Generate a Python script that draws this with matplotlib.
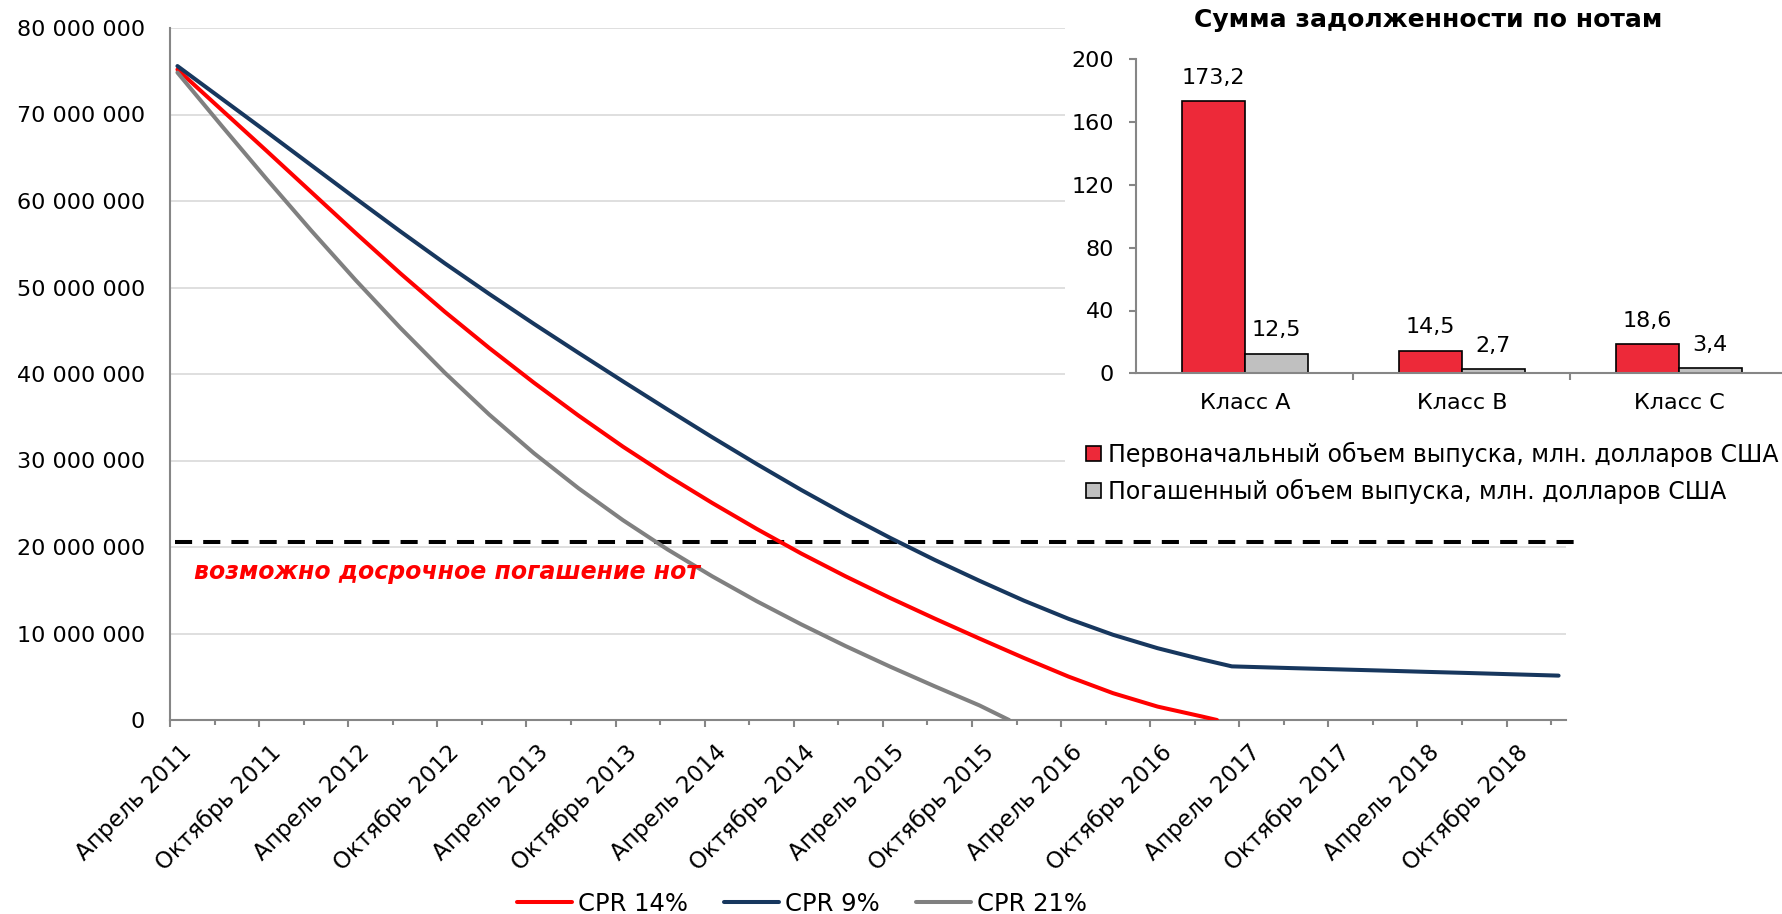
import matplotlib
matplotlib.use("Agg")
import matplotlib.pyplot as plt
from matplotlib.ticker import FixedLocator, FuncFormatter
from matplotlib.transforms import ScaledTranslation
from matplotlib.patches import Rectangle

plt.rcParams['font.family'] = ['DejaVu Sans']

# ---------------- data ----------------
n_months = 94  # April 2011 .. January 2019, monthly categories
month_labels = ['Апрель 2011', 'Октябрь 2011', 'Апрель 2012', 'Октябрь 2012',
                'Апрель 2013', 'Октябрь 2013', 'Апрель 2014', 'Октябрь 2014',
                'Апрель 2015', 'Октябрь 2015', 'Апрель 2016', 'Октябрь 2016',
                'Апрель 2017', 'Октябрь 2017', 'Апрель 2018', 'Октябрь 2018']
label_every = 6

series_names = ['CPR 14%', 'CPR 9%', 'CPR 21%']

cpr14_month = [0, 3, 6, 9, 12, 15, 18, 21, 24, 27, 30, 33, 36, 39, 42, 45,
               48, 51, 54, 57, 60, 63, 66, 69, 70]
cpr14_mln = [75.2, 70.5, 65.8, 61.05, 56.3, 51.65, 47.2, 43.0, 39.0, 35.2,
             31.6, 28.25, 25.1, 22.1, 19.25, 16.6, 14.1, 11.72, 9.42, 7.17,
             5.02, 3.1, 1.55, 0.4, 0.0]

cpr9_month = [0, 3, 6, 9, 12, 15, 18, 21, 24, 27, 30, 33, 36, 39, 42, 45, 48,
              51, 54, 57, 60, 63, 66, 69, 71, 72, 75, 78, 81, 84, 87, 90, 93]
cpr9_mln = [75.6, 71.8, 68.0, 64.15, 60.3, 56.5, 52.8, 49.25, 45.8, 42.45,
            39.15, 35.9, 32.7, 29.6, 26.6, 23.75, 21.05, 18.5, 16.1, 13.8,
            11.7, 9.85, 8.3, 7.0, 6.2, 6.15, 6.0, 5.86, 5.72, 5.57, 5.43,
            5.28, 5.13]

cpr21_month = [0, 3, 6, 9, 12, 15, 18, 21, 24, 27, 30, 33, 36, 39, 42, 45, 48,
               51, 54, 56]
cpr21_mln = [74.85, 68.65, 62.55, 56.6, 50.85, 45.35, 40.15, 35.3, 30.85,
             26.8, 23.1, 19.72, 16.62, 13.74, 11.06, 8.54, 6.16, 3.89, 1.69,
             0.0]

threshold_mln = 20.55
threshold_text = 'возможно досрочное погашение нот'

bar_title = 'Сумма задолженности по нотам'
bar_classes = ['Класс A', 'Класс B', 'Класс C']
bar_initial = [173.2, 14.5, 18.6]
bar_repaid = [12.5, 2.7, 3.4]
bar_series = ['Первоначальный объем выпуска, млн. долларов США',
              'Погашенный объем выпуска, млн. долларов США']

# ---------------- style ----------------
W, H = 1783, 914
RED = '#FF0000'
NAVY = '#17375E'
GRAY = '#808080'
AXIS = '#868686'
GRID = '#D9D9D9'
FS = 16

fig = plt.figure(figsize=(W / 100, H / 100), dpi=100)

# ---------------- main line chart ----------------
ax = fig.add_axes([170 / W, 1 - 720 / H, 1396 / W, 692 / H])
ax.set_xlim(-0.5, n_months - 0.5)
ax.set_ylim(0, 80e6)

series = [(cpr14_month, cpr14_mln, RED),
          (cpr9_month, cpr9_mln, NAVY),
          (cpr21_month, cpr21_mln, GRAY)]
line_handles = []
for (m, v, c), name in zip(series, series_names):
    ln, = ax.plot(m, [x * 1e6 for x in v], color=c, lw=2.9, label=name,
                  solid_capstyle='round', solid_joinstyle='round', zorder=3)
    line_handles.append(ln)

ax.set_yticks([i * 10e6 for i in range(9)])
ax.yaxis.set_major_formatter(FuncFormatter(lambda v, p: f"{int(round(v)):,}".replace(',', ' ')))
ax.grid(axis='y', color=GRID, lw=1.2)
ax.set_axisbelow(True)
ax.tick_params(axis='y', length=0, pad=18, labelsize=FS)

for s in ['top', 'right']:
    ax.spines[s].set_visible(False)
for s in ['left', 'bottom']:
    ax.spines[s].set_color(AXIS)
    ax.spines[s].set_linewidth(1.5)

major_pos = [-0.5 + label_every * k for k in range(len(month_labels))]
minor_pos = [-0.5 + label_every * k + label_every / 2 for k in range(len(month_labels))]
ax.xaxis.set_major_locator(FixedLocator(major_pos))
ax.xaxis.set_minor_locator(FixedLocator(minor_pos))
ax.set_xticklabels(month_labels, rotation=45, ha='right', va='top',
                   rotation_mode='anchor', fontsize=16.5)
ax.tick_params(axis='x', which='major', length=5, width=1.5, color=AXIS, pad=10)
ax.tick_params(axis='x', which='minor', length=3.6, width=1.5, color=AXIS)
shift = ScaledTranslation(10 / 100, 0, fig.dpi_scale_trans)
for lab in ax.get_xticklabels():
    lab.set_transform(lab.get_transform() + shift)

# threshold dashed line and annotation
ax.plot([0.0036, 1.0122], [threshold_mln * 1e6] * 2, transform=ax.get_yaxis_transform(),
        color='black', lw=2.9, linestyle=(0, (4.25, 2.75)), clip_on=False, zorder=2)
ax.text(0.0172, 0.2143, threshold_text, transform=ax.transAxes, color=RED,
        fontsize=17, fontweight='bold', fontstyle='italic', ha='left', va='center')

fig.legend(handles=line_handles, loc='center', bbox_to_anchor=(802 / W, 1 - 904 / H),
           ncol=3, frameon=False, handlelength=2.25, handletextpad=0.25,
           columnspacing=1.5, fontsize=17.5, borderpad=0)

# ---------------- inset bar chart ----------------
fig.add_artist(Rectangle((1065 / W, 1 - 510 / H), 1 - 1065 / W, 510 / H,
                         transform=fig.transFigure, facecolor='white',
                         edgecolor='none', zorder=1))

bax = fig.add_axes([1136.4 / W, 1 - 373.3 / H, 651 / W, 314 / H], zorder=2)
bax.patch.set_alpha(0)
bax.set_xlim(-0.5, 2.5)
bax.set_ylim(0, 200)
xs = list(range(len(bar_classes)))
bw = 0.29
b1 = bax.bar([x - bw / 2 for x in xs], bar_initial, width=bw, color='#ED2939',
             edgecolor='black', lw=1.2, label=bar_series[0])
b2 = bax.bar([x + bw / 2 for x in xs], bar_repaid, width=bw, color='#C0C0C0',
             edgecolor='black', lw=1.2, label=bar_series[1])
bax.bar_label(b1, labels=[f"{v:.1f}".replace('.', ',') for v in bar_initial],
              padding=9.5, fontsize=FS)
bax.bar_label(b2, labels=[f"{v:.1f}".replace('.', ',') for v in bar_repaid],
              padding=9.5, fontsize=FS)

for s in ['top', 'right']:
    bax.spines[s].set_visible(False)
for s in ['left', 'bottom']:
    bax.spines[s].set_color(AXIS)
    bax.spines[s].set_linewidth(1.5)
bax.set_yticks([0, 40, 80, 120, 160, 200])
bax.tick_params(axis='y', length=5, width=1.5, color=AXIS, pad=11, labelsize=FS)
bax.set_xticks(xs)
bax.set_xticklabels(bar_classes, fontsize=FS)
bax.xaxis.set_minor_locator(FixedLocator([0.5, 1.5]))
bax.tick_params(axis='x', which='major', length=0, pad=14)
bax.tick_params(axis='x', which='minor', length=5, width=1.5, color=AXIS)

fig.text(1428 / W, 1 - 20.5 / H, bar_title, ha='center', va='center',
         fontsize=18, fontweight='bold')

fig.legend(handles=[b1, b2], labels=bar_series, loc='upper left',
           bbox_to_anchor=(1086.4 / W, 1 - 442 / H), frameon=False,
           handlelength=0.62, handleheight=0.62, handletextpad=0.3,
           borderpad=0, borderaxespad=0, labelspacing=0.48, fontsize=17)

fig.savefig('out.png', dpi=100)
